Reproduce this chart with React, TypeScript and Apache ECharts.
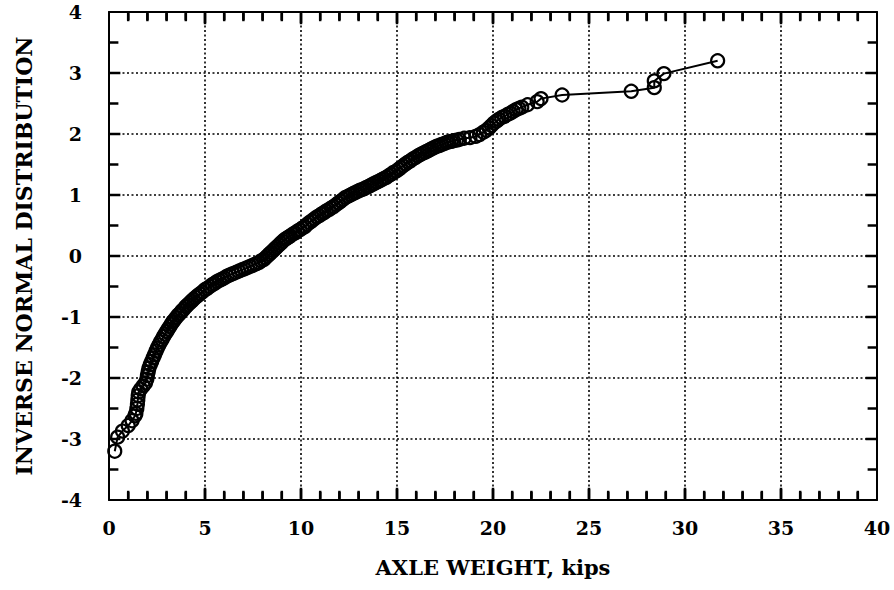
import React, { useEffect, useRef } from "react";
import * as echarts from "echarts";

// Axle weight (kips)
const axleWeight: number[] = [
  0.30, 0.45, 0.70, 1.00, 1.20, 1.35,
  1.40, 1.45, 1.48, 1.50, 1.52, 1.55, 1.65, 1.78, 1.90, 1.97,
  2.00, 2.04, 2.08, 2.15, 2.22, 2.30, 2.37, 2.45, 2.52, 2.60,
  2.68, 2.76, 2.84, 2.92, 3.00, 3.08, 3.16, 3.24, 3.32, 3.40,
  3.50, 3.60, 3.70, 3.80, 3.90, 4.00, 4.10, 4.20, 4.30, 4.40,
  4.50, 4.62, 4.74, 4.86, 5.00, 5.12, 5.25, 5.38, 5.50, 5.62,
  5.75, 5.88, 6.00, 6.15, 6.30, 6.45, 6.60, 6.75, 6.90, 7.05,
  7.20, 7.35, 7.50, 7.65, 7.80, 7.92, 8.05, 8.15, 8.25, 8.35,
  8.45, 8.55, 8.65, 8.75, 8.85, 8.95, 9.05, 9.15, 9.25, 9.35,
  9.45, 9.58, 9.70, 9.82, 9.95, 10.08, 10.20, 10.32, 10.45, 10.58,
  10.70, 10.82, 10.95, 11.08, 11.20, 11.32, 11.45, 11.58, 11.70, 11.82,
  11.95, 12.08, 12.20, 12.32, 12.45, 12.58, 12.70, 12.82, 12.95, 13.08,
  13.20, 13.32, 13.45, 13.58, 13.70, 13.82, 13.95, 14.08, 14.20, 14.32,
  14.45, 14.58, 14.70, 14.82, 14.95, 15.08, 15.20, 15.32, 15.45, 15.58,
  15.70, 15.82, 15.95, 16.08, 16.20, 16.32, 16.45, 16.58, 16.70, 16.82,
  16.95, 17.08, 17.20, 17.32, 17.45, 17.58, 17.70, 17.82, 17.95, 18.10,
  18.25, 18.50, 18.80, 19.10, 19.30, 19.50, 19.65, 19.80, 19.92, 20.05,
  20.18, 20.30, 20.45, 20.60, 20.75, 20.90, 21.05, 21.20, 21.35, 21.50,
  21.80, 22.30, 22.50, 23.60, 27.20, 28.40, 28.40, 28.90, 31.70,
];

// Inverse normal distribution value for each point
const inverseNormal: number[] = [
  -3.20, -2.97, -2.87, -2.78, -2.70, -2.62,
  -2.58, -2.50, -2.43, -2.36, -2.29, -2.23, -2.18, -2.13, -2.08, -2.02,
  -1.96, -1.90, -1.84, -1.78, -1.73, -1.67, -1.62, -1.56, -1.51, -1.46,
  -1.41, -1.37, -1.32, -1.28, -1.24, -1.20, -1.16, -1.12, -1.08, -1.05,
  -1.01, -0.97, -0.94, -0.90, -0.87, -0.83, -0.80, -0.77, -0.74, -0.71,
  -0.68, -0.65, -0.62, -0.59, -0.55, -0.53, -0.50, -0.47, -0.45, -0.42,
  -0.40, -0.38, -0.36, -0.33, -0.31, -0.29, -0.27, -0.25, -0.23, -0.21,
  -0.19, -0.17, -0.15, -0.13, -0.11, -0.08, -0.06, -0.03, 0.00, 0.03,
  0.06, 0.09, 0.12, 0.15, 0.18, 0.21, 0.24, 0.27, 0.29, 0.31,
  0.33, 0.36, 0.38, 0.41, 0.43, 0.46, 0.48, 0.52, 0.55, 0.58,
  0.61, 0.64, 0.66, 0.69, 0.71, 0.74, 0.76, 0.79, 0.81, 0.84,
  0.87, 0.90, 0.93, 0.96, 0.98, 1.00, 1.02, 1.04, 1.06, 1.08,
  1.09, 1.11, 1.13, 1.15, 1.17, 1.19, 1.21, 1.23, 1.25, 1.27,
  1.29, 1.32, 1.34, 1.37, 1.39, 1.42, 1.45, 1.48, 1.51, 1.54,
  1.56, 1.59, 1.61, 1.64, 1.66, 1.68, 1.70, 1.72, 1.74, 1.76,
  1.78, 1.80, 1.81, 1.83, 1.84, 1.86, 1.87, 1.88, 1.89, 1.90,
  1.91, 1.93, 1.94, 1.96, 1.99, 2.03, 2.06, 2.10, 2.14, 2.18,
  2.21, 2.24, 2.27, 2.29, 2.32, 2.34, 2.37, 2.40, 2.42, 2.44,
  2.48, 2.53, 2.58, 2.64, 2.70, 2.76, 2.87, 2.99, 3.20,
];

const xTickLabels: string[] = ["0", "5", "10", "15", "20", "25", "30", "35", "40"];
const yTickLabels: string[] = ["-4", "-3", "-2", "-1", "0", "1", "2", "3", "4"];

// tick positions (major every 5 kips / 1 unit; minor in between)
const xMajorTicks: number[] = [5, 10, 15, 20, 25, 30, 35];
const xMinorTicks: number[] = [
  1, 2, 3, 4, 6, 7, 8, 9, 11, 12, 13, 14, 16, 17, 18, 19,
  21, 22, 23, 24, 26, 27, 28, 29, 31, 32, 33, 34, 36, 37, 38, 39,
];
const yMajorTicks: number[] = [-3, -2, -1, 0, 1, 2, 3];
const yMinorTicks: number[] = [-3.5, -2.5, -1.5, -0.5, 0.5, 1.5, 2.5, 3.5];

const X_NAME = "AXLE WEIGHT, kips";
const Y_NAME = "INVERSE NORMAL DISTRIBUTION";

const FONT = "'DejaVu Serif', 'Liberation Serif', serif";
const X_MIN = 0, X_MAX = 40, Y_MIN = -4, Y_MAX = 4;
const MAJ = 11, MIN = 8, W = 2.5;

function makeAxis(kind: "x" | "y", pos: string, main: boolean) {
  const isX = kind === "x";
  return {
    type: "value",
    position: pos,
    min: isX ? X_MIN : Y_MIN,
    max: isX ? X_MAX : Y_MAX,
    interval: isX ? 5 : 1,
    axisLine: { show: true, onZero: false, lineStyle: { color: "#000", width: 2 } },
    axisTick: { show: false },
    minorTick: { show: false },
    splitLine: main
      ? { show: true, lineStyle: { color: "#000", width: 1.6, type: [2, 2.5] } }
      : { show: false },
    axisLabel: main
      ? {
          show: true,
          fontFamily: FONT,
          fontWeight: "bold",
          fontSize: 19,
          color: "#000",
          margin: isX ? 18 : 27,
          formatter: (v: number) =>
            isX ? xTickLabels[Math.round(v / 5)] ?? String(v) : yTickLabels[Math.round(v + 4)] ?? String(v),
        }
      : { show: false },
  };
}

function tickSeries(points: number[][], size: number[], offset: number[]) {
  return {
    type: "scatter",
    silent: true,
    clip: false,
    data: points,
    symbol: "rect",
    symbolSize: size,
    symbolOffset: offset,
    itemStyle: { color: "#000", opacity: 1 },
    z: 6,
  };
}

export default function App() {
  const ref = useRef<HTMLDivElement>(null);

  useEffect(() => {
    if (!ref.current) return;
    const chart = echarts.init(ref.current, undefined, { renderer: "svg" });
    const data = axleWeight.map((x, i) => [x, inverseNormal[i]]);

    chart.setOption({
      animation: false,
      backgroundColor: "#fff",
      grid: { left: 109, right: 17, top: 12, bottom: 90, containLabel: false },
      xAxis: [
        {
          ...makeAxis("x", "bottom", true),
          name: X_NAME,
          nameLocation: "middle",
          nameGap: 57,
          nameTextStyle: { fontFamily: FONT, fontWeight: "bold", fontSize: 21, color: "#000" },
        },
        makeAxis("x", "top", false),
      ],
      yAxis: [
        {
          ...makeAxis("y", "left", true),
          name: Y_NAME,
          nameLocation: "middle",
          nameGap: 74,
          nameTextStyle: { fontFamily: FONT, fontWeight: "bold", fontSize: 22, color: "#000" },
        },
        makeAxis("y", "right", false),
      ],
      series: [
        {
          type: "line",
          data,
          symbol: "circle",
          symbolSize: 13,
          showAllSymbol: true,
          itemStyle: { color: "rgba(0,0,0,0)", borderColor: "#000", borderWidth: 2.2 },
          lineStyle: { color: "#000", width: 2 },
          z: 5,
        },
        // bottom and top ticks
        tickSeries(xMajorTicks.map((v) => [v, Y_MIN + 0.02]), [W, MAJ], [0, -MAJ / 2]),
        tickSeries(xMinorTicks.map((v) => [v, Y_MIN + 0.02]), [W, MIN], [0, -MIN / 2]),
        tickSeries(xMajorTicks.map((v) => [v, Y_MAX - 0.02]), [W, MAJ], [0, MAJ / 2]),
        tickSeries(xMinorTicks.map((v) => [v, Y_MAX - 0.02]), [W, MIN], [0, MIN / 2]),
        // left and right ticks
        tickSeries(yMajorTicks.map((v) => [X_MIN + 0.02, v]), [MAJ, W], [MAJ / 2, 0]),
        tickSeries(yMinorTicks.map((v) => [X_MIN + 0.02, v]), [MIN + 1, W], [(MIN + 1) / 2, 0]),
        tickSeries(yMajorTicks.map((v) => [X_MAX - 0.02, v]), [MAJ, W], [-MAJ / 2, 0]),
        tickSeries(yMinorTicks.map((v) => [X_MAX - 0.02, v]), [MIN + 1, W], [-(MIN + 1) / 2, 0]),
      ],
    });

    // bottom/top ticks also as graphic rects, positioned through the axis scale
    const elements: any[] = [];
    const addX = (v: number, len: number) => {
      const b = chart.convertToPixel({ gridIndex: 0 }, [v, Y_MIN]) as number[];
      const t = chart.convertToPixel({ gridIndex: 0 }, [v, Y_MAX]) as number[];
      if (!b || !t) return;
      elements.push({
        type: "rect",
        silent: true,
        z: 100,
        shape: { x: b[0] - W / 2, y: b[1] - len, width: W, height: len },
        style: { fill: "#000" },
      });
      elements.push({
        type: "rect",
        silent: true,
        z: 100,
        shape: { x: t[0] - W / 2, y: t[1], width: W, height: len },
        style: { fill: "#000" },
      });
    };
    xMajorTicks.forEach((v) => addX(v, MAJ));
    xMinorTicks.forEach((v) => addX(v, MIN));
    chart.setOption({ graphic: { elements } });

    return () => chart.dispose();
  }, []);

  return (
    <div
      ref={ref}
      style={{ position: "absolute", left: 0, top: 0, width: 894, height: 590, background: "#fff" }}
    />
  );
}
